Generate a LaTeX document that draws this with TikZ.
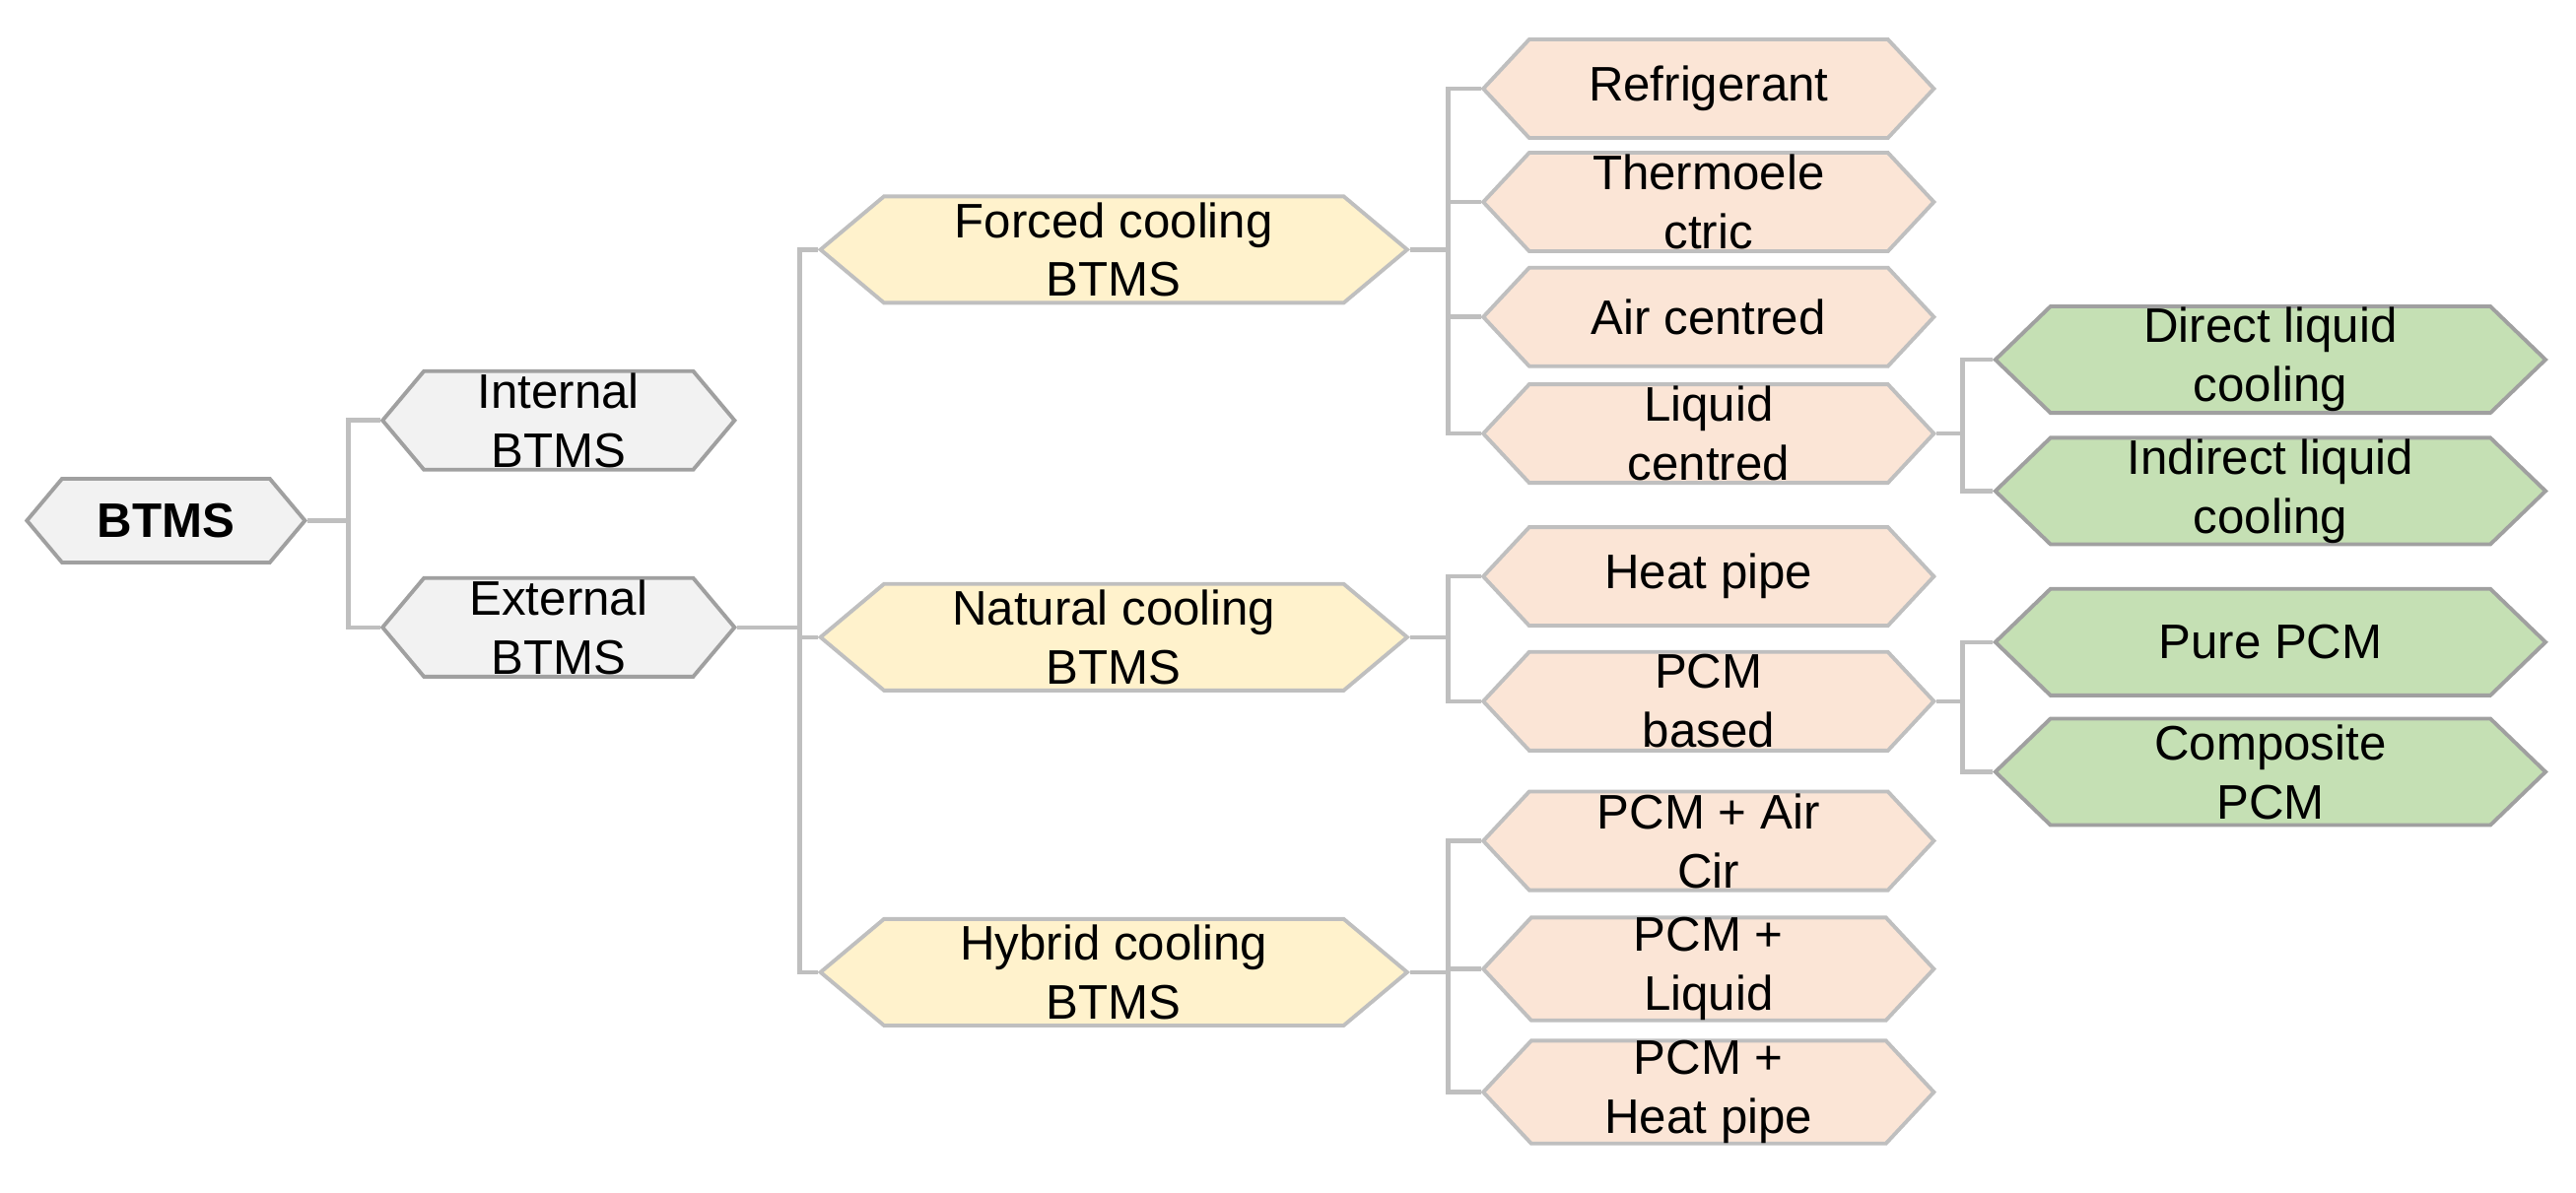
\documentclass[tikz,border=0pt]{standalone}
\usepackage{fontspec}
\setmainfont{Liberation Sans}
\usetikzlibrary{shapes.symbols}

\definecolor{grayfill}{HTML}{F2F2F2}
\definecolor{grayline}{HTML}{A0A0A0}
\definecolor{yelfill}{HTML}{FFF2CC}
\definecolor{pinkfill}{HTML}{FBE5D6}
\definecolor{greenfill}{HTML}{C5E0B4}
\definecolor{edgeline}{HTML}{BFBFBF}

\tikzset{
    box/.style={signal, signal to=west and east, inner sep=0pt, align=center,
        line width=1.1pt, font=\fontsize{14}{17}\selectfont},
    graybox/.style={box, fill=grayfill, draw=grayline, minimum width=3.57cm, minimum height=1cm, signal pointer angle=100},
    yelbox/.style={box, fill=yelfill, draw=edgeline, minimum width=5.95cm, minimum height=1.08cm, signal pointer angle=80},
    pinkbox/.style={box, fill=pinkfill, draw=edgeline, minimum width=4.57cm, minimum height=1cm, signal pointer angle=94},
    greenbox/.style={box, fill=greenfill, draw=grayline, minimum width=5.58cm, minimum height=1.08cm, signal pointer angle=88},
    link/.style={draw=edgeline, line width=1.3pt}
}

\begin{document}
\begin{tikzpicture}[x=0.01667cm, y=-0.01667cm]
    \useasboundingbox (0,0) rectangle (1568,726);

    % Raiz
    \node[graybox, minimum width=2.82cm, minimum height=0.85cm, font=\fontsize{14}{17}\selectfont\bfseries] (btms) at (101,317) {BTMS};
    \node[graybox] (int) at (340,256) {Internal\\BTMS};
    \node[graybox] (ext) at (340,382) {External\\BTMS};

    % Nivel 2
    \node[yelbox] (forced) at (678,152) {Forced cooling\\BTMS};
    \node[yelbox] (natural) at (678,388) {Natural cooling\\BTMS};
    \node[yelbox] (hybrid) at (678,592) {Hybrid cooling\\BTMS};

    % Nivel 3
    \node[pinkbox] (refr) at (1040,54) {Refrigerant};
    \node[pinkbox] (thermo) at (1040,123) {Thermoele\\ctric};
    \node[pinkbox] (air) at (1040,193) {Air centred};
    \node[pinkbox] (liquid) at (1040,264) {Liquid\\centred};
    \node[pinkbox] (hpipe) at (1040,351) {Heat pipe};
    \node[pinkbox] (pcm) at (1040,427) {PCM\\based};
    \node[pinkbox] (pcmair) at (1040,512) {PCM + Air\\Cir};
    \node[pinkbox] (pcmliq) at (1040,590) {PCM +\\Liquid};
    \node[pinkbox] (pcmhp) at (1040,665) {PCM +\\Heat pipe};

    % Nivel 4
    \node[greenbox] (direct) at (1382,219) {Direct liquid\\cooling};
    \node[greenbox] (indirect) at (1382,299) {Indirect liquid\\cooling};
    \node[greenbox] (pure) at (1382,391) {Pure PCM};
    \node[greenbox] (comp) at (1382,470) {Composite\\PCM};

    % Conectores
    \foreach \c in {int, ext}
        \draw[link] (btms.east) -- ++(25,0) |- (\c.west);
    \foreach \c in {forced, natural, hybrid}
        \draw[link] (ext.east) -- ++(38,0) |- (\c.west);
    \foreach \c in {refr, thermo, air, liquid}
        \draw[link] (forced.east) -- ++(23,0) |- (\c.west);
    \foreach \c in {hpipe, pcm}
        \draw[link] (natural.east) -- ++(23,0) |- (\c.west);
    \foreach \c in {pcmair, pcmliq, pcmhp}
        \draw[link] (hybrid.east) -- ++(23,0) |- (\c.west);
    \foreach \c in {direct, indirect}
        \draw[link] (liquid.east) -- ++(16,0) |- (\c.west);
    \foreach \c in {pure, comp}
        \draw[link] (pcm.east) -- ++(16,0) |- (\c.west);
\end{tikzpicture}
\end{document}
